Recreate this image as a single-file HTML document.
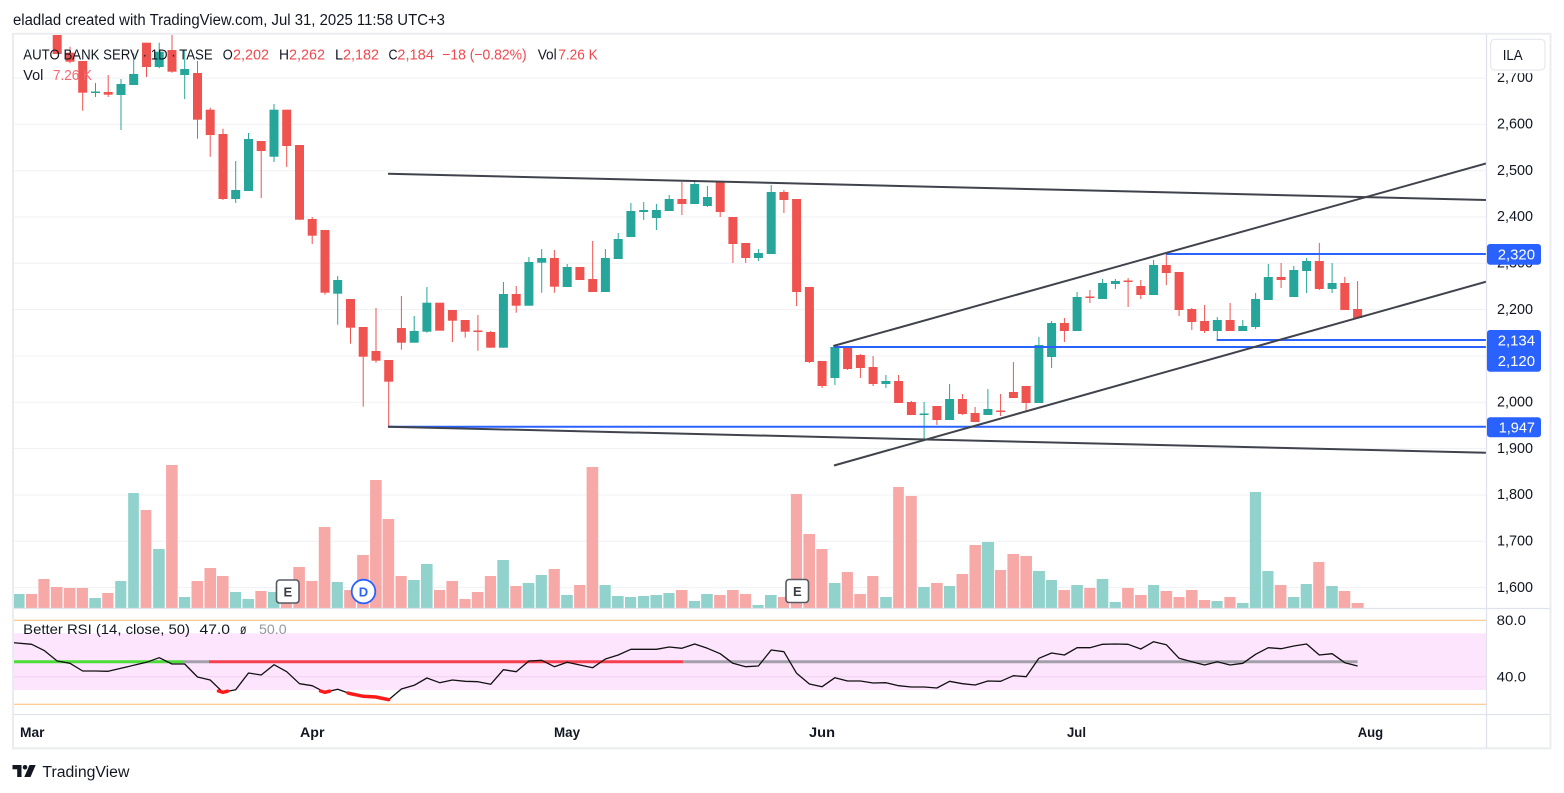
<!DOCTYPE html>
<html><head><meta charset="utf-8"><style>
html,body{margin:0;padding:0;background:#fff;width:1564px;height:793px;overflow:hidden}
svg{display:block}
text{font-family:"Liberation Sans",Arial,sans-serif;fill:#131722}
</style></head><body>
<svg width="1564" height="793" viewBox="0 0 1564 793" xmlns="http://www.w3.org/2000/svg">
<defs>
<clipPath id="main"><rect x="14" y="35" width="1472" height="573"/></clipPath>
<clipPath id="rsi"><rect x="14" y="609" width="1472" height="105"/></clipPath>
<clipPath id="ax"><rect x="1487" y="73.3" width="63" height="535"/></clipPath>
</defs>
<rect width="1564" height="793" fill="#fff"/>

<!-- header -->
<text x="13" y="25" font-size="15.5" textLength="432" lengthAdjust="spacingAndGlyphs">eladlad created with TradingView.com, Jul 31, 2025 11:58 UTC+3</text>

<!-- grid -->
<g stroke="#f0f1f5" stroke-width="1">
<line x1="14" x2="1486" y1="78" y2="78"/><line x1="14" x2="1486" y1="124.3" y2="124.3"/>
<line x1="14" x2="1486" y1="170.7" y2="170.7"/><line x1="14" x2="1486" y1="217" y2="217"/>
<line x1="14" x2="1486" y1="263.3" y2="263.3"/><line x1="14" x2="1486" y1="309.6" y2="309.6"/>
<line x1="14" x2="1486" y1="356" y2="356"/><line x1="14" x2="1486" y1="402.3" y2="402.3"/>
<line x1="14" x2="1486" y1="448.6" y2="448.6"/><line x1="14" x2="1486" y1="495" y2="495"/>
<line x1="14" x2="1486" y1="541.3" y2="541.3"/><line x1="14" x2="1486" y1="587.6" y2="587.6"/>
</g>

<!-- volume -->
<g transform="translate(0,455) scale(0.44643,0.33333)">
<g fill="#92d2cc">
<rect x="30" y="417" width="25" height="43"/><rect x="200" y="429" width="26" height="31"/><rect x="258" y="378" width="25" height="82"/>
<rect x="287" y="114" width="24" height="346"/><rect x="343" y="282" width="26" height="178"/><rect x="401" y="426" width="25" height="34"/>
<rect x="515" y="411" width="25" height="49"/><rect x="543" y="432" width="26" height="28"/><rect x="600" y="411" width="26" height="49"/>
<rect x="743" y="381" width="25" height="79"/><rect x="914" y="375" width="26" height="85"/><rect x="943" y="327" width="26" height="133"/>
<rect x="1114" y="315" width="26" height="145"/><rect x="1171" y="384" width="26" height="76"/><rect x="1200" y="360" width="25" height="100"/>
<rect x="1257" y="420" width="26" height="40"/><rect x="1343" y="390" width="25" height="70"/><rect x="1371" y="423" width="26" height="37"/>
<rect x="1400" y="426" width="25" height="34"/><rect x="1429" y="423" width="25" height="37"/><rect x="1457" y="420" width="26" height="40"/>
<rect x="1486" y="414" width="25" height="46"/><rect x="1543" y="438" width="25" height="22"/>
</g>
<g fill="#f7a9a7">
<rect x="58" y="417" width="25" height="43"/><rect x="86" y="372" width="25" height="88"/><rect x="114" y="396" width="26" height="64"/>
<rect x="143" y="399" width="26" height="61"/><rect x="172" y="399" width="25" height="61"/><rect x="229" y="414" width="25" height="46"/>
<rect x="315" y="165" width="24" height="295"/><rect x="372" y="30" width="26" height="430"/><rect x="429" y="378" width="26" height="82"/>
<rect x="458" y="339" width="26" height="121"/><rect x="486" y="363" width="26" height="97"/><rect x="572" y="408" width="25" height="52"/>
<rect x="629" y="440" width="25" height="20"/><rect x="657" y="336" width="26" height="124"/><rect x="686" y="378" width="25" height="82"/>
<rect x="714" y="216" width="26" height="244"/><rect x="771" y="405" width="26" height="55"/><rect x="800" y="300" width="26" height="160"/>
<rect x="829" y="75" width="26" height="385"/><rect x="857" y="192" width="26" height="268"/><rect x="886" y="363" width="25" height="97"/>
<rect x="972" y="405" width="25" height="55"/><rect x="1000" y="378" width="26" height="82"/><rect x="1029" y="432" width="25" height="28"/>
<rect x="1057" y="411" width="26" height="49"/><rect x="1086" y="363" width="25" height="97"/><rect x="1143" y="393" width="25" height="67"/>
<rect x="1229" y="342" width="25" height="118"/><rect x="1286" y="390" width="25" height="70"/><rect x="1314" y="36" width="26" height="424"/>
<rect x="1514" y="405" width="26" height="55"/>
</g>
</g>
<g transform="translate(690,455) scale(0.44643,0.33333)">
<g fill="#92d2cc">
<rect x="25" y="417" width="26" height="43"/><rect x="140" y="450" width="25" height="10"/><rect x="168" y="420" width="26" height="40"/>
<rect x="311" y="384" width="26" height="76"/><rect x="426" y="426" width="26" height="34"/><rect x="511" y="396" width="26" height="64"/>
<rect x="569" y="393" width="25" height="67"/><rect x="654" y="261" width="27" height="199"/><rect x="768" y="348" width="27" height="112"/>
<rect x="797" y="375" width="25" height="85"/><rect x="854" y="390" width="26" height="70"/><rect x="911" y="372" width="26" height="88"/>
<rect x="940" y="441" width="25" height="19"/><rect x="1026" y="390" width="25" height="70"/><rect x="1168" y="438" width="25" height="22"/>
<rect x="1225" y="444" width="26" height="16"/><rect x="1254" y="111" width="25" height="349"/><rect x="1282" y="348" width="25" height="112"/>
<rect x="1339" y="426" width="26" height="34"/><rect x="1368" y="387" width="25" height="73"/><rect x="1425" y="393" width="26" height="67"/>
</g>
<g fill="#f7a9a7">
<rect x="54" y="420" width="26" height="40"/><rect x="83" y="405" width="26" height="55"/><rect x="112" y="417" width="25" height="43"/>
<rect x="197" y="426" width="25" height="34"/><rect x="226" y="117" width="25" height="343"/><rect x="254" y="237" width="26" height="223"/>
<rect x="283" y="282" width="25" height="178"/><rect x="340" y="351" width="25" height="109"/><rect x="368" y="417" width="26" height="43"/>
<rect x="397" y="363" width="25" height="97"/><rect x="455" y="96" width="24" height="364"/><rect x="483" y="123" width="25" height="337"/>
<rect x="540" y="384" width="26" height="76"/><rect x="597" y="357" width="26" height="103"/><rect x="626" y="270" width="26" height="190"/>
<rect x="683" y="345" width="25" height="115"/><rect x="711" y="297" width="26" height="163"/><rect x="740" y="303" width="26" height="157"/>
<rect x="825" y="405" width="26" height="55"/><rect x="883" y="399" width="25" height="61"/><rect x="968" y="399" width="26" height="61"/>
<rect x="997" y="420" width="26" height="40"/><rect x="1054" y="408" width="26" height="52"/><rect x="1083" y="426" width="25" height="34"/>
<rect x="1111" y="405" width="26" height="55"/><rect x="1140" y="435" width="25" height="25"/><rect x="1197" y="426" width="25" height="34"/>
<rect x="1310" y="390" width="26" height="70"/><rect x="1396" y="321" width="25" height="139"/><rect x="1453" y="408" width="26" height="52"/>
<rect x="1482" y="444" width="27" height="16"/>
</g>
</g>

<!-- candles -->
<g clip-path="url(#main)">
<g fill="#ef5350">
<rect x="52.7" y="30" width="9" height="24"/>
<rect x="65.5" y="52.7" width="9" height="9"/><rect x="69.5" y="46.7" width="1" height="16.6"/>
<rect x="78.2" y="61" width="9" height="31.7"/><rect x="82.2" y="61" width="1" height="49.7"/>
<rect x="103.7" y="92" width="9" height="2.7"/><rect x="107.7" y="75" width="1" height="22"/>
<rect x="142" y="42.7" width="9" height="24.3"/><rect x="146" y="42.7" width="1" height="34.3"/>
<rect x="167.5" y="50" width="9" height="21.7"/><rect x="171.5" y="30" width="1" height="42.7"/>
<rect x="193" y="73" width="9" height="46.7"/><rect x="197" y="61" width="1" height="77.7"/>
<rect x="205.7" y="109.7" width="9" height="25.3"/><rect x="209.7" y="107.7" width="1" height="49"/>
<rect x="218.5" y="134" width="9" height="65"/><rect x="222.5" y="128.7" width="1" height="71.3"/>
<rect x="256.7" y="141" width="9" height="10"/><rect x="260.7" y="141" width="1" height="57"/>
<rect x="282.2" y="109.7" width="9" height="36.3"/><rect x="286.2" y="109.7" width="1" height="57.3"/>
<rect x="295" y="145" width="9" height="74.7"/><rect x="299" y="145" width="1" height="75"/>
<rect x="307.7" y="219" width="9" height="16.7"/><rect x="311.7" y="217" width="1" height="27"/>
<rect x="320.5" y="230" width="9" height="62.7"/><rect x="324.5" y="230" width="1" height="64.7"/>
<rect x="346" y="299" width="9" height="28.7"/><rect x="350" y="299" width="1" height="44.7"/>
<rect x="358.7" y="327" width="9" height="29.7"/><rect x="362.7" y="327" width="1" height="79.7"/>
<rect x="371.5" y="351" width="9" height="9.7"/><rect x="375.5" y="308" width="1" height="54.7"/>
<rect x="384.2" y="360" width="9" height="21.7"/><rect x="388.2" y="360" width="1" height="66.7"/>
<rect x="396.9" y="328" width="9" height="14.7"/><rect x="400.9" y="296" width="1" height="53.7"/>
<rect x="435.2" y="302.7" width="9" height="28"/>
<rect x="447.9" y="310" width="9" height="10.7"/><rect x="451.9" y="310" width="1" height="32"/>
<rect x="460.7" y="320" width="9" height="11.7"/><rect x="464.7" y="320" width="1" height="17.7"/>
<rect x="473.4" y="330.5" width="9" height="1.5"/><rect x="477.4" y="315" width="1" height="35.7"/>
<rect x="486.2" y="332" width="9" height="15.7"/><rect x="490.2" y="331" width="1" height="16.7"/>
<rect x="511.7" y="294" width="9" height="11.7"/><rect x="515.7" y="286" width="1" height="26.7"/>
<rect x="549.9" y="258" width="9" height="28.7"/><rect x="553.9" y="250" width="1" height="42.7"/>
<rect x="575.4" y="267" width="9" height="13"/>
<rect x="588.2" y="279" width="9" height="13"/><rect x="592.2" y="241" width="1" height="51"/>
<rect x="677.4" y="199" width="9" height="5"/><rect x="681.4" y="182" width="1" height="33"/>
<rect x="715.7" y="182" width="9" height="30"/><rect x="719.7" y="181" width="1" height="36"/>
<rect x="728.4" y="217" width="9" height="27"/><rect x="732.4" y="217" width="1" height="46"/>
<rect x="741.2" y="243" width="9" height="15"/><rect x="745.2" y="243" width="1" height="20"/>
<rect x="779.4" y="192" width="9" height="8"/><rect x="783.4" y="190" width="1" height="23"/>
<rect x="792.1" y="199" width="9" height="93"/><rect x="796.1" y="199" width="1" height="107"/>
<rect x="804.9" y="287" width="9" height="75"/><rect x="808.9" y="287" width="1" height="76"/>
<rect x="817.6" y="361" width="9" height="25"/><rect x="821.6" y="361" width="1" height="27"/>
<rect x="843.1" y="347" width="9" height="22"/><rect x="847.1" y="347" width="1" height="23"/>
<rect x="855.9" y="355" width="9" height="13"/><rect x="859.9" y="354" width="1" height="24"/>
<rect x="868.6" y="367" width="9" height="17"/><rect x="872.6" y="356" width="1" height="30"/>
<rect x="894.1" y="381" width="9" height="22"/><rect x="898.1" y="375" width="1" height="28"/>
<rect x="906.9" y="402" width="9" height="13"/><rect x="910.9" y="401" width="1" height="14"/>
<rect x="932.4" y="406" width="9" height="14"/><rect x="936.4" y="406" width="1" height="19"/>
<rect x="957.9" y="399" width="9" height="15"/><rect x="961.9" y="394" width="1" height="21"/>
<rect x="970.6" y="413" width="9" height="9"/><rect x="974.6" y="407" width="1" height="15"/>
<rect x="996.1" y="410.5" width="9" height="1.5"/><rect x="1000.1" y="394" width="1" height="22"/>
<rect x="1008.9" y="392" width="9" height="6"/><rect x="1012.9" y="362" width="1" height="36"/>
<rect x="1021.6" y="386" width="9" height="17"/><rect x="1025.6" y="386" width="1" height="26"/>
<rect x="1059.9" y="323" width="9" height="8"/><rect x="1063.9" y="318" width="1" height="24"/>
<rect x="1085.4" y="296.5" width="9" height="1.5"/><rect x="1089.4" y="290" width="1" height="13"/>
<rect x="1123.6" y="280.5" width="9" height="1.5"/><rect x="1127.6" y="278" width="1" height="29"/>
<rect x="1136.3" y="286" width="9" height="9"/><rect x="1140.3" y="280" width="1" height="19"/>
<rect x="1161.8" y="265" width="9" height="8"/><rect x="1165.8" y="253" width="1" height="32"/>
<rect x="1174.6" y="272" width="9" height="38"/><rect x="1178.6" y="272" width="1" height="44"/>
<rect x="1187.3" y="309" width="9" height="13"/><rect x="1191.3" y="308" width="1" height="22"/>
<rect x="1200.1" y="321" width="9" height="10"/><rect x="1204.1" y="305" width="1" height="28"/>
<rect x="1225.6" y="320" width="9" height="11"/><rect x="1229.6" y="303" width="1" height="28"/>
<rect x="1276.6" y="277" width="9" height="3"/><rect x="1280.6" y="263" width="1" height="25"/>
<rect x="1314.8" y="261" width="9" height="28"/><rect x="1318.8" y="243" width="1" height="47"/>
<rect x="1340.3" y="283" width="9" height="27"/><rect x="1344.3" y="277" width="1" height="33"/>
<rect x="1353.1" y="309" width="9" height="9"/><rect x="1357.1" y="281" width="1" height="37"/>
</g>
<g fill="#26a69a">
<rect x="91" y="91.5" width="9" height="1.5"/><rect x="95" y="83" width="1" height="14"/>
<rect x="116.5" y="84" width="9" height="11"/><rect x="120.5" y="79" width="1" height="51"/>
<rect x="129.2" y="74" width="9" height="11"/><rect x="133.2" y="53.3" width="1" height="31.7"/>
<rect x="154.7" y="51.7" width="9" height="15.3"/><rect x="158.7" y="42.7" width="1" height="25.6"/>
<rect x="180.2" y="69" width="9" height="6"/><rect x="184.2" y="50" width="1" height="49"/>
<rect x="231.2" y="190" width="9" height="9"/><rect x="235.2" y="161" width="1" height="42"/>
<rect x="244" y="139" width="9" height="52"/><rect x="248" y="133" width="1" height="58"/>
<rect x="269.5" y="109.7" width="9" height="47"/><rect x="273.5" y="104" width="1" height="58"/>
<rect x="333.2" y="280" width="9" height="13.7"/><rect x="337.2" y="276" width="1" height="48.7"/>
<rect x="409.7" y="331" width="9" height="11.7"/><rect x="413.7" y="316" width="1" height="26.7"/>
<rect x="422.4" y="302.7" width="9" height="29"/><rect x="426.4" y="287" width="1" height="45.7"/>
<rect x="498.9" y="294" width="9" height="53.7"/><rect x="502.9" y="282" width="1" height="65.7"/>
<rect x="524.4" y="262" width="9" height="43.7"/><rect x="528.4" y="257" width="1" height="48.7"/>
<rect x="537.2" y="258" width="9" height="4.7"/><rect x="541.2" y="249" width="1" height="43.7"/>
<rect x="562.7" y="267" width="9" height="20"/><rect x="566.7" y="264" width="1" height="23"/>
<rect x="600.9" y="258" width="9" height="34"/><rect x="604.9" y="249" width="1" height="43"/>
<rect x="613.7" y="239" width="9" height="20"/><rect x="617.7" y="233" width="1" height="26"/>
<rect x="626.4" y="211" width="9" height="26"/><rect x="630.4" y="203" width="1" height="34"/>
<rect x="639.2" y="210" width="9" height="2"/><rect x="643.2" y="202" width="1" height="18"/>
<rect x="651.9" y="210" width="9" height="8"/><rect x="655.9" y="204" width="1" height="26"/>
<rect x="664.7" y="199" width="9" height="12"/><rect x="668.7" y="195" width="1" height="16"/>
<rect x="690.2" y="184" width="9" height="20"/><rect x="694.2" y="181" width="1" height="23"/>
<rect x="702.9" y="197" width="9" height="9"/><rect x="706.9" y="186" width="1" height="21"/>
<rect x="753.9" y="253" width="9" height="5"/><rect x="757.9" y="249" width="1" height="12"/>
<rect x="766.7" y="192" width="9" height="62"/><rect x="770.7" y="185" width="1" height="69"/>
<rect x="830.4" y="347" width="9" height="31"/><rect x="834.4" y="346" width="1" height="39"/>
<rect x="881.4" y="381" width="9" height="3"/><rect x="885.4" y="375" width="1" height="13"/>
<rect x="919.6" y="413.5" width="9" height="1.5"/><rect x="923.6" y="402" width="1" height="38"/>
<rect x="945.1" y="399" width="9" height="21"/><rect x="949.1" y="384" width="1" height="36"/>
<rect x="983.4" y="409" width="9" height="6"/><rect x="987.4" y="389" width="1" height="26"/>
<rect x="1034.4" y="345" width="9" height="58"/><rect x="1038.4" y="337" width="1" height="66"/>
<rect x="1047.1" y="323" width="9" height="34"/><rect x="1051.1" y="321" width="1" height="47"/>
<rect x="1072.6" y="297" width="9" height="34"/><rect x="1076.6" y="292" width="1" height="39"/>
<rect x="1098.1" y="283" width="9" height="16"/><rect x="1102.1" y="279" width="1" height="20"/>
<rect x="1110.9" y="281" width="9" height="3"/><rect x="1114.9" y="279" width="1" height="10"/>
<rect x="1149.1" y="265" width="9" height="30"/><rect x="1153.1" y="260" width="1" height="35"/>
<rect x="1212.8" y="320" width="9" height="11"/><rect x="1216.8" y="317" width="1" height="23"/>
<rect x="1238.3" y="326" width="9" height="5"/><rect x="1242.3" y="320" width="1" height="11"/>
<rect x="1251.1" y="299" width="9" height="28"/><rect x="1255.1" y="293" width="1" height="36"/>
<rect x="1263.8" y="277" width="9" height="23"/><rect x="1267.8" y="264" width="1" height="36"/>
<rect x="1289.3" y="270" width="9" height="27"/><rect x="1293.3" y="266" width="1" height="31"/>
<rect x="1302.1" y="261" width="9" height="10"/><rect x="1306.1" y="258" width="1" height="35"/>
<rect x="1327.6" y="283" width="9" height="6"/><rect x="1331.6" y="263" width="1" height="30"/>
</g>

<!-- drawings -->
<g stroke="#2962ff" stroke-width="2" fill="none">
<line x1="1166" y1="254" x2="1486" y2="254"/>
<line x1="1216.7" y1="340" x2="1486" y2="340"/>
<line x1="834" y1="347" x2="1486" y2="347"/>
<line x1="388" y1="426.7" x2="1486" y2="426.7"/>
</g>
<g stroke="#41434c" stroke-width="2" fill="none">
<line x1="388" y1="173.7" x2="1486" y2="200"/>
<line x1="388" y1="426.7" x2="1486" y2="452.7"/>
<line x1="833.3" y1="346" x2="1486" y2="163.5"/>
<line x1="834" y1="465.5" x2="1486" y2="281.7"/>
</g>
</g>

<!-- event markers -->
<rect x="276.5" y="580" width="22.5" height="23" rx="3" fill="#fff" stroke="#555a63" stroke-width="1.6"/>
<text x="287.8" y="596.5" font-size="13" font-weight="bold" text-anchor="middle" style="fill:#3a3d45">E</text>
<circle cx="363.5" cy="591.5" r="11.8" fill="#fff" stroke="#2962ff" stroke-width="1.8"/>
<text x="363.5" y="596.5" font-size="13" font-weight="bold" text-anchor="middle" style="fill:#2962ff">D</text>
<rect x="786" y="579.5" width="22.5" height="23" rx="3" fill="#fff" stroke="#555a63" stroke-width="1.6"/>
<text x="797.3" y="596" font-size="13" font-weight="bold" text-anchor="middle" style="fill:#3a3d45">E</text>

<!-- legend -->
<text y="59.3" font-size="15">
<tspan x="23.3" textLength="189.4" lengthAdjust="spacingAndGlyphs">AUTO BANK SERV · 1D · TASE</tspan>
</text>
<g font-size="15">
<text x="222.7" y="59.3" textLength="10" lengthAdjust="spacingAndGlyphs">O</text>
<text x="233" y="59.3" textLength="36" lengthAdjust="spacingAndGlyphs" style="fill:#f0484f">2,202</text>
<text x="279" y="59.3" textLength="10" lengthAdjust="spacingAndGlyphs">H</text>
<text x="289" y="59.3" textLength="36" lengthAdjust="spacingAndGlyphs" style="fill:#f0484f">2,262</text>
<text x="335" y="59.3" textLength="8" lengthAdjust="spacingAndGlyphs">L</text>
<text x="343" y="59.3" textLength="36" lengthAdjust="spacingAndGlyphs" style="fill:#f0484f">2,182</text>
<text x="388.5" y="59.3" textLength="9" lengthAdjust="spacingAndGlyphs">C</text>
<text x="397.3" y="59.3" textLength="36.7" lengthAdjust="spacingAndGlyphs" style="fill:#f0484f">2,184</text>
<text x="442.3" y="59.3" textLength="84.4" lengthAdjust="spacingAndGlyphs" style="fill:#f0484f">−18 (−0.82%)</text>
<text x="537.7" y="59.3" textLength="19" lengthAdjust="spacingAndGlyphs">Vol</text>
<text x="558.3" y="59.3" textLength="39.4" lengthAdjust="spacingAndGlyphs" style="fill:#f0484f">7.26 K</text>
<text x="23.3" y="80" textLength="20" lengthAdjust="spacingAndGlyphs">Vol</text>
<text x="53" y="80" textLength="39" lengthAdjust="spacingAndGlyphs" style="fill:#f56a6f">7.26 K</text>
</g>

<!-- RSI pane -->
<rect x="14" y="633.3" width="1472" height="56.7" fill="#fde5fd"/>
<line x1="14" x2="1486" y1="676.7" y2="676.7" stroke="#efd2f0" stroke-width="1"/>
<g stroke="#f9bb72" stroke-width="1">
<line x1="14" x2="1486" y1="620.3" y2="620.3"/>
<line x1="14" x2="1486" y1="704.3" y2="704.3"/>
</g>
<g clip-path="url(#rsi)" fill="none">
<g stroke-width="3">
<line x1="14" x2="183" y1="661.7" y2="661.7" stroke="#4bdc3a"/>
<line x1="183" x2="209" y1="661.7" y2="661.7" stroke="#a39fab"/>
<line x1="209" x2="683" y1="661.7" y2="661.7" stroke="#f5404f"/>
<line x1="683" x2="1357.6" y1="661.7" y2="661.7" stroke="#a39fab"/>
</g>
<polyline stroke="#111" stroke-width="1.3" stroke-linejoin="round" points="13.4,642.7 31.7,644.3 44.5,650.7 57.2,661 70,663.3 82.7,671 95.5,671 108.2,671.3 121,668.3 133.7,665.3 146.5,662.3 159.2,657.7 172,664 184.7,664 197.5,677 210.2,680 223,692.3 235.7,689.7 248.5,673 261.2,675 274,664.7 286.7,671.7 299.5,683.7 312.2,685.7 325,692.3 337.7,689.3 350.5,693.7 363.2,696.3 376,697 388.7,699.7 401.4,689 414.2,685.3 426.9,678 439.7,682.7 452.4,680 465.2,681.3 477.9,681.7 490.7,684.3 503.4,669.7 516.2,671.7 528.9,661 541.7,660.3 554.4,666.7 567.2,662.3 579.9,665 592.7,667.7 605.4,659 618.2,655 630.9,649.3 643.7,649.3 656.4,649.3 669.2,647 681.9,648.3 694.7,644 707.4,648.3 720.2,653.7 732.9,663.3 745.7,666.7 758.4,666 771.2,650 783.9,651.7 796.6,673.3 809.4,684 822.1,686.7 834.9,677.7 847.6,681 860.4,681 873.1,683 885.9,682.7 898.6,685.7 911.4,687 924.1,687 936.9,688 949.6,681.3 962.4,683.7 975.1,685 987.9,681 1000.6,681.3 1013.4,675.7 1026.1,676.7 1038.9,658.3 1051.6,653 1064.4,655 1077.1,647.7 1089.9,647.7 1102.6,644.3 1115.4,644 1128.1,644.3 1140.8,649 1153.6,641.7 1166.3,644.7 1179.1,658.3 1191.8,661.7 1204.6,665 1217.3,661.7 1230.1,665 1242.8,663.3 1255.6,654.3 1268.3,647.7 1281.1,648.7 1293.8,646 1306.6,644 1319.3,655 1332.1,653.7 1344.8,662.7 1357.6,666"/>
<g stroke="#ff1a1a" stroke-width="3.5" stroke-linecap="round">
<polyline points="218.5,691 223,692.3 227.5,691.2"/>
<polyline points="320.5,691 325,692.3 329.5,691.2"/>
<polyline points="348,693 350.5,693.7 363.2,696.3 376,697 388.7,699.7"/>
</g>
</g>
<text y="634" font-size="14">
<tspan x="23.2" textLength="166.8" lengthAdjust="spacingAndGlyphs">Better RSI (14, close, 50)</tspan>
</text>
<text x="199.5" y="634" font-size="14" textLength="30.5" lengthAdjust="spacingAndGlyphs">47.0</text>
<text x="240" y="634" font-size="14" textLength="6.4" lengthAdjust="spacingAndGlyphs">ø</text>
<text x="259" y="634" font-size="14" textLength="27.6" lengthAdjust="spacingAndGlyphs" style="fill:#9598a1">50.0</text>

<!-- frame & separators -->
<g stroke="#e0e3eb" fill="none">
<line x1="1486.5" y1="34" x2="1486.5" y2="748" stroke-width="1.3"/>
<line x1="13" y1="608.5" x2="1550" y2="608.5" stroke-width="1.3"/>
<line x1="13" y1="714.5" x2="1550" y2="714.5" stroke-width="1.3"/>
<rect x="13" y="33.8" width="1537.5" height="714.5" stroke="#eaecf0" stroke-width="2"/>
</g>

<!-- price axis -->
<g clip-path="url(#ax)" font-size="15">
<text x="1497" y="82" textLength="36" lengthAdjust="spacingAndGlyphs">2,700</text>
<text x="1497" y="128.3" textLength="36" lengthAdjust="spacingAndGlyphs">2,600</text>
<text x="1497" y="174.8" textLength="36" lengthAdjust="spacingAndGlyphs">2,500</text>
<text x="1497" y="221.2" textLength="36" lengthAdjust="spacingAndGlyphs">2,400</text>
<text x="1497" y="267.6" textLength="36" lengthAdjust="spacingAndGlyphs">2,300</text>
<text x="1497" y="313.9" textLength="36" lengthAdjust="spacingAndGlyphs">2,200</text>
<text x="1497" y="360.2" textLength="36" lengthAdjust="spacingAndGlyphs">2,100</text>
<text x="1497" y="406.6" textLength="36" lengthAdjust="spacingAndGlyphs">2,000</text>
<text x="1497" y="452.9" textLength="36" lengthAdjust="spacingAndGlyphs">1,900</text>
<text x="1497" y="499.2" textLength="36" lengthAdjust="spacingAndGlyphs">1,800</text>
<text x="1497" y="545.5" textLength="36" lengthAdjust="spacingAndGlyphs">1,700</text>
<text x="1497" y="591.8" textLength="36" lengthAdjust="spacingAndGlyphs">1,600</text>
</g>
<rect x="1490.7" y="39.3" width="54.3" height="30.7" rx="4" fill="#fff" stroke="#e0e3eb" stroke-width="1"/>
<text x="1502.7" y="60" font-size="15" textLength="20" lengthAdjust="spacingAndGlyphs">ILA</text>

<g fill="#2962ff">
<rect x="1487" y="244" width="54" height="20.7" rx="3"/>
<rect x="1487" y="330" width="54" height="41.7" rx="3"/>
<rect x="1487" y="417.3" width="54" height="20" rx="3"/>
</g>
<g font-size="15">
<text x="1497.7" y="259.3" textLength="37.3" lengthAdjust="spacingAndGlyphs" style="fill:#fff">2,320</text>
<text x="1497.7" y="345.3" textLength="37.3" lengthAdjust="spacingAndGlyphs" style="fill:#fff">2,134</text>
<text x="1497.7" y="366" textLength="37.3" lengthAdjust="spacingAndGlyphs" style="fill:#fff">2,120</text>
<text x="1498.7" y="432.7" textLength="36.3" lengthAdjust="spacingAndGlyphs" style="fill:#fff">1,947</text>
</g>

<g font-size="14">
<text x="1496.7" y="625" textLength="29.3" lengthAdjust="spacingAndGlyphs">80.0</text>
<text x="1496.7" y="681.7" textLength="29.3" lengthAdjust="spacingAndGlyphs">40.0</text>
</g>

<!-- time axis -->
<g font-size="14" font-weight="bold">
<text x="20" y="737" textLength="24.5" lengthAdjust="spacingAndGlyphs">Mar</text>
<text x="300" y="737" textLength="24.5" lengthAdjust="spacingAndGlyphs">Apr</text>
<text x="554" y="737" textLength="26" lengthAdjust="spacingAndGlyphs">May</text>
<text x="809" y="737" textLength="26" lengthAdjust="spacingAndGlyphs">Jun</text>
<text x="1067" y="737" textLength="19" lengthAdjust="spacingAndGlyphs">Jul</text>
<text x="1357.7" y="737" textLength="25.5" lengthAdjust="spacingAndGlyphs">Aug</text>
</g>

<!-- logo -->
<g fill="#131722">
<rect x="12.5" y="765" width="9" height="4.3"/>
<rect x="17.2" y="765" width="4.3" height="12"/>
<circle cx="25" cy="767.3" r="2.3"/>
<polygon points="29.5,765 35.7,765 30.5,777 24.3,777"/>
</g>
<text x="42.4" y="777" font-size="15.5" textLength="87" lengthAdjust="spacingAndGlyphs">TradingView</text>
</svg>
</body></html>
